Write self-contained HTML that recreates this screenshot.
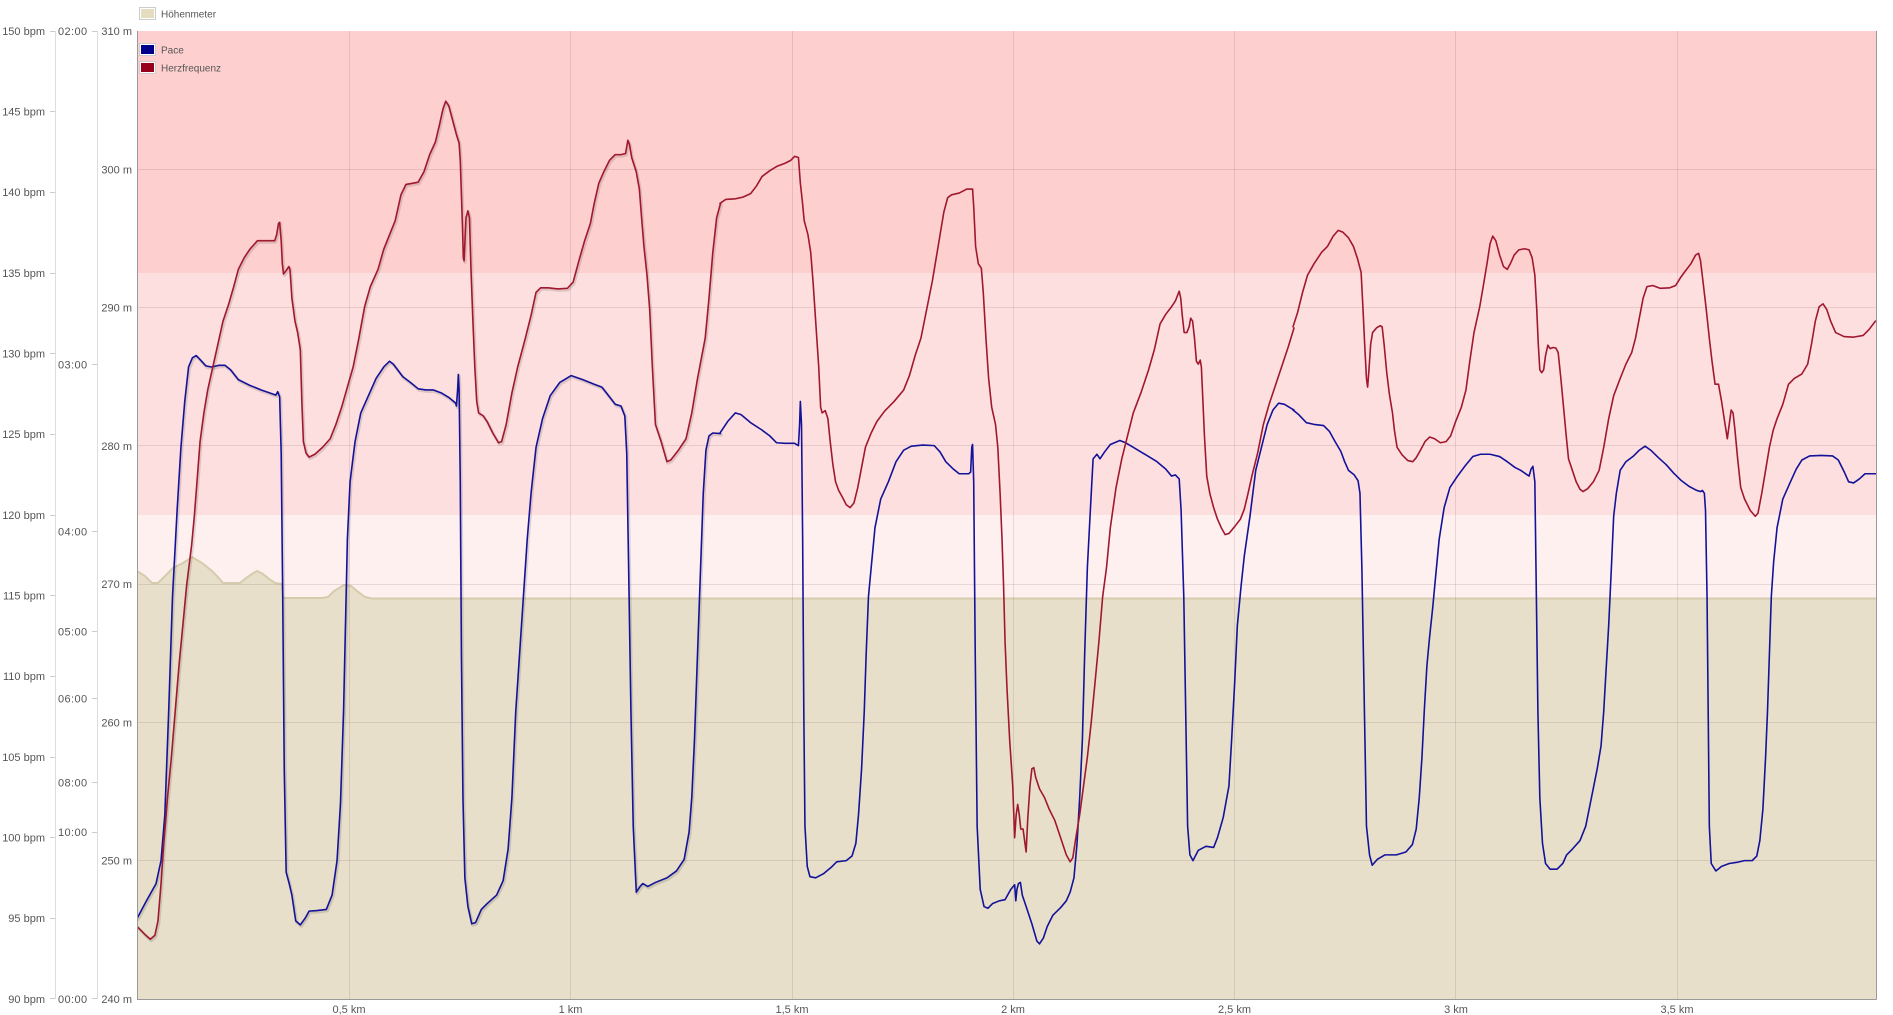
<!DOCTYPE html>
<html>
<head>
<meta charset="utf-8">
<style>
html,body{margin:0;padding:0;background:#fff;}
svg{display:block;}
text{font-family:"Liberation Sans",sans-serif;fill:#555;}
</style>
</head>
<body>
<svg width="1893" height="1015" viewBox="0 0 1893 1015" xmlns="http://www.w3.org/2000/svg">
<defs>
<clipPath id="plot" clipPathUnits="userSpaceOnUse"><rect x="137" y="31" width="1739" height="968"/></clipPath>
</defs>

<!-- zones -->
<rect x="137" y="31" width="1739" height="242" fill="#fecfcf"/>
<rect x="137" y="273" width="1739" height="242" fill="#fedfdf"/>
<rect x="137" y="515" width="1739" height="484" fill="#fff0f0"/>

<!-- elevation -->
<g clip-path="url(#plot)">
<path d="M137,571 L145,576 L152,583 L158,583 L166,575 L173,568 L183,563 L192,557 L202,563 L212,571 L217,576 L223,583 L240,583 L246,578 L252,574 L257,571 L263,574 L269,579 L275,583 L282,584 L283,598 L322,598 L328,597 L334,591 L344,585 L351,586 L357,591 L365,597 L372,598.5 L1876,598.5 L1876,999 L137,999 Z" fill="#e8dfca"/>
<path d="M137,571 L145,576 L152,583 L158,583 L166,575 L173,568 L183,563 L192,557 L202,563 L212,571 L217,576 L223,583 L240,583 L246,578 L252,574 L257,571 L263,574 L269,579 L275,583 L282,584 L283,598 L322,598 L328,597 L334,591 L344,585 L351,586 L357,591 L365,597 L372,598.5 L1876,598.5" fill="none" stroke="#d6cbad" stroke-width="2"/>
</g>

<!-- gridlines -->
<g stroke="rgba(120,80,80,0.16)" stroke-width="1">
<line x1="137" y1="169.5" x2="1876" y2="169.5"/>
<line x1="137" y1="307.5" x2="1876" y2="307.5"/>
<line x1="137" y1="445.5" x2="1876" y2="445.5"/>
<line x1="137" y1="584.5" x2="1876" y2="584.5"/>
<line x1="137" y1="722.5" x2="1876" y2="722.5"/>
<line x1="137" y1="860.5" x2="1876" y2="860.5"/>
<line x1="349.5" y1="31" x2="349.5" y2="999"/>
<line x1="570.5" y1="31" x2="570.5" y2="999"/>
<line x1="792.5" y1="31" x2="792.5" y2="999"/>
<line x1="1013.5" y1="31" x2="1013.5" y2="999"/>
<line x1="1234.5" y1="31" x2="1234.5" y2="999"/>
<line x1="1455.5" y1="31" x2="1455.5" y2="999"/>
<line x1="1677.5" y1="31" x2="1677.5" y2="999"/>
</g>

<!-- series -->
<g clip-path="url(#plot)" fill="none" stroke-linejoin="round" stroke-linecap="round">
<!-- shadows -->
<g transform="translate(1,1.5)" stroke="rgba(0,0,0,0.12)" stroke-width="3">
<g transform="translate(135,80) scale(0.38266,0.57399)">
<path vector-effect="non-scaling-stroke" d="M6,1460 L30,1430 L55,1400 L68,1360 L78,1280 L88,1100 L98,900 L110,750 L120,640 L130,560 L140,500 L150,484 L160,480 L170,487 L185,498 L200,500 L220,497 L235,497 L250,505 L270,522 L300,532 L330,540 L360,547 L368,549 L373,543 L378,552 L382,650 L386,900 L390,1200 L395,1380 L403,1400 L410,1420 L420,1465 L432,1472 L445,1460 L455,1448 L475,1447 L500,1445 L515,1420 L528,1360 L537,1260 L545,1100 L550,950 L555,800 L562,700 L575,630 L590,580 L610,550 L630,520 L650,500 L665,490 L675,495 L700,517 L720,527 L740,538 L760,540 L780,540 L800,545 L820,553 L838,563 L840,568 L843,540 L845,513 L847,540 L850,700 L853,1000 L857,1250 L862,1390 L870,1440 L880,1470 L890,1468 L905,1445 L920,1435 L945,1420 L962,1395 L975,1340 L985,1250 L995,1100 L1005,1000 L1015,900 L1025,800 L1035,720 L1048,640 L1065,590 L1085,550 L1110,527 L1140,515 L1170,522 L1200,530 L1220,535 L1240,552 L1255,565 L1270,568 L1280,585 L1285,650 L1290,850 L1296,1100 L1302,1300 L1310,1415 L1320,1405 L1327,1400 L1340,1405 L1360,1398 L1390,1390 L1415,1378 L1435,1358 L1448,1310 L1455,1250 L1462,1150 L1470,1000 L1478,850 L1485,720 L1492,645 L1500,620 L1510,615 L1530,616"/>
<path vector-effect="non-scaling-stroke" d="M6,1475 L25,1488 L40,1497 L52,1490 L60,1465 L68,1400 L75,1330 L85,1250 L95,1180 L105,1100 L115,1020 L125,950 L135,880 L148,810 L155,760 L162,700 L170,630 L180,580 L190,540 L200,510 L210,480 L220,450 L230,420 L245,390 L258,360 L270,330 L285,310 L300,295 L320,280 L345,280 L365,280 L370,270 L375,250 L378,248 L382,280 L385,320 L388,338 L395,332 L402,325 L405,330 L410,380 L418,420 L425,440 L432,470 L436,560 L440,630 L447,650 L455,657 L470,652 L490,640 L510,625 L525,600 L540,570 L555,535 L570,500 L585,450 L600,395 L615,360 L635,330 L650,295 L665,270 L680,245 L695,200 L708,182 L725,180 L740,178 L755,160 L770,130 L785,108 L795,80 L805,50 L812,37 L820,45 L830,70 L840,95 L847,110 L850,140 L853,200 L856,260 L858,310 L860,315 L865,240 L870,228 L874,240 L878,330 L883,420 L888,500 L893,560 L898,580 L910,585 L920,595 L935,615 L950,632 L958,630 L970,600 L985,545 L1000,500 L1020,450 L1035,410 L1048,370 L1060,362 L1080,362 L1105,364 L1130,363 L1145,352 L1160,315 L1175,280 L1190,250 L1200,215 L1212,180 L1225,160 L1240,140 L1255,130 L1270,130 L1282,128 L1288,105 L1292,112 L1298,135 L1310,160 L1318,190 L1325,250 L1330,290 L1338,340 L1345,400 L1352,500 L1360,600 L1375,630 L1390,665 L1400,662 L1420,645 L1440,625 L1455,580 L1470,520 L1490,450 L1500,380 L1510,300 L1520,240 L1530,215"/>
</g>
</g>

<!-- Section A: real x 135..735 -->
<g transform="translate(135,80) scale(0.38266,0.57399)">
<path vector-effect="non-scaling-stroke" stroke="#13139a" stroke-width="1.6" d="M6,1460 L30,1430 L55,1400 L68,1360 L78,1280 L88,1100 L98,900 L110,750 L120,640 L130,560 L140,500 L150,484 L160,480 L170,487 L185,498 L200,500 L220,497 L235,497 L250,505 L270,522 L300,532 L330,540 L360,547 L368,549 L373,543 L378,552 L382,650 L386,900 L390,1200 L395,1380 L403,1400 L410,1420 L420,1465 L432,1472 L445,1460 L455,1448 L475,1447 L500,1445 L515,1420 L528,1360 L537,1260 L545,1100 L550,950 L555,800 L562,700 L575,630 L590,580 L610,550 L630,520 L650,500 L665,490 L675,495 L700,517 L720,527 L740,538 L760,540 L780,540 L800,545 L820,553 L838,563 L840,568 L843,540 L845,513 L847,540 L850,700 L853,1000 L857,1250 L862,1390 L870,1440 L880,1470 L890,1468 L905,1445 L920,1435 L945,1420 L962,1395 L975,1340 L985,1250 L995,1100 L1005,1000 L1015,900 L1025,800 L1035,720 L1048,640 L1065,590 L1085,550 L1110,527 L1140,515 L1170,522 L1200,530 L1220,535 L1240,552 L1255,565 L1270,568 L1280,585 L1285,650 L1290,850 L1296,1100 L1302,1300 L1310,1415 L1320,1405 L1327,1400 L1340,1405 L1360,1398 L1390,1390 L1415,1378 L1435,1358 L1448,1310 L1455,1250 L1462,1150 L1470,1000 L1478,850 L1485,720 L1492,645 L1500,620 L1510,615 L1530,616"/>
<path vector-effect="non-scaling-stroke" stroke="#a0182e" stroke-width="1.6" d="M6,1475 L25,1488 L40,1497 L52,1490 L60,1465 L68,1400 L75,1330 L85,1250 L95,1180 L105,1100 L115,1020 L125,950 L135,880 L148,810 L155,760 L162,700 L170,630 L180,580 L190,540 L200,510 L210,480 L220,450 L230,420 L245,390 L258,360 L270,330 L285,310 L300,295 L320,280 L345,280 L365,280 L370,270 L375,250 L378,248 L382,280 L385,320 L388,338 L395,332 L402,325 L405,330 L410,380 L418,420 L425,440 L432,470 L436,560 L440,630 L447,650 L455,657 L470,652 L490,640 L510,625 L525,600 L540,570 L555,535 L570,500 L585,450 L600,395 L615,360 L635,330 L650,295 L665,270 L680,245 L695,200 L708,182 L725,180 L740,178 L755,160 L770,130 L785,108 L795,80 L805,50 L812,37 L820,45 L830,70 L840,95 L847,110 L850,140 L853,200 L856,260 L858,310 L860,315 L865,240 L870,228 L874,240 L878,330 L883,420 L888,500 L893,560 L898,580 L910,585 L920,595 L935,615 L950,632 L958,630 L970,600 L985,545 L1000,500 L1020,450 L1035,410 L1048,370 L1060,362 L1080,362 L1105,364 L1130,363 L1145,352 L1160,315 L1175,280 L1190,250 L1200,215 L1212,180 L1225,160 L1240,140 L1255,130 L1270,130 L1282,128 L1288,105 L1292,112 L1298,135 L1310,160 L1318,190 L1325,250 L1330,290 L1338,340 L1345,400 L1352,500 L1360,600 L1375,630 L1390,665 L1400,662 L1420,645 L1440,625 L1455,580 L1470,520 L1490,450 L1500,380 L1510,300 L1520,240 L1530,215"/>
</g>

<!-- Section B: real x 720..1320 -->
<g transform="translate(720,80) scale(0.38266,0.57399)">
<path vector-effect="non-scaling-stroke" stroke="#13139a" stroke-width="1.6" d="M0,615 L20,595 L40,580 L55,583 L80,597 L110,610 L130,620 L148,632 L170,633 L195,633 L205,637 L208,600 L210,560 L213,600 L216,800 L219,1100 L222,1300 L228,1370 L235,1388 L250,1390 L270,1383 L290,1372 L305,1362 L330,1360 L345,1352 L355,1330 L362,1280 L370,1200 L377,1100 L382,1000 L388,900 L395,850 L405,780 L420,730 L440,700 L460,665 L480,645 L500,638 L530,636 L560,637 L575,648 L590,665 L610,678 L625,686 L650,686 L655,683 L658,640 L660,635 L663,700 L667,1000 L672,1300 L680,1410 L690,1440 L700,1443 L712,1435 L730,1430 L745,1428 L760,1410 L770,1402 L773,1430 L776,1410 L780,1400 L785,1398 L790,1420 L800,1440 L815,1470 L828,1500 L835,1505 L845,1495 L855,1475 L870,1455 L890,1442 L905,1430 L915,1415 L925,1390 L933,1330 L940,1250 L947,1150 L953,1000 L960,850 L967,760 L975,660 L985,652 L993,660 L1005,648 L1020,635 L1045,628 L1060,632 L1080,640 L1110,652 L1140,664 L1165,678 L1180,690 L1190,688 L1200,695 L1205,750 L1212,900 L1217,1100 L1222,1300 L1228,1350 L1236,1360 L1250,1342 L1270,1335 L1290,1337 L1300,1320 L1315,1285 L1330,1230 L1337,1150 L1345,1050 L1352,950 L1362,880 L1370,830 L1385,760 L1400,680 L1415,640 L1430,600 L1445,575 L1460,563 L1475,565 L1500,575"/>
<path vector-effect="non-scaling-stroke" stroke="#a0182e" stroke-width="1.6" d="M0,215 L15,208 L40,207 L60,204 L80,198 L95,185 L110,168 L130,158 L150,150 L170,145 L185,140 L195,133 L205,135 L210,180 L215,210 L220,245 L230,270 L237,300 L243,350 L248,400 L253,450 L258,500 L263,570 L267,580 L275,576 L282,590 L288,630 L295,670 L302,700 L310,715 L320,727 L330,740 L340,745 L350,737 L360,710 L370,675 L380,640 L395,615 L410,595 L430,577 L455,560 L480,540 L495,515 L510,480 L525,450 L540,400 L555,350 L565,310 L575,270 L585,230 L595,205 L605,200 L625,197 L645,190 L660,190 L663,220 L668,290 L675,320 L683,328 L688,370 L695,450 L702,520 L710,570 L720,600 L726,640 L732,720 L737,800 L741,880 L745,980 L750,1060 L757,1150 L765,1230 L770,1320 L774,1280 L778,1262 L782,1280 L786,1305 L792,1305 L797,1330 L800,1345 L804,1290 L810,1230 L815,1200 L820,1198 L825,1215 L835,1235 L848,1250 L860,1270 L875,1290 L885,1310 L895,1330 L905,1350 L915,1362 L922,1355 L930,1320 L940,1280 L950,1230 L960,1180 L970,1120 L980,1050 L990,980 L1000,900 L1010,850 L1020,780 L1035,710 L1050,660 L1065,620 L1080,580 L1100,545 L1120,505 L1135,470 L1150,425 L1165,408 L1180,395 L1190,385 L1200,368 L1204,380 L1208,410 L1213,440 L1220,440 L1226,430 L1230,415 L1235,420 L1240,450 L1245,490 L1250,495 L1255,488 L1258,500 L1262,560 L1266,620 L1272,690 L1280,720 L1290,745 L1300,765 L1310,780 L1320,792 L1330,790 L1345,778 L1360,765 L1370,748 L1380,720 L1390,690 L1405,650 L1420,600 L1435,565 L1450,535 L1470,495 L1485,465 L1500,432"/>
</g>

<!-- Section C: real x 1293..1893 -->
<g transform="translate(1293,80) scale(0.38266,0.57399)">
<path vector-effect="non-scaling-stroke" stroke="#13139a" stroke-width="1.6" d="M0,575 L15,583 L35,597 L55,600 L80,602 L95,612 L110,630 L125,647 L135,665 L145,680 L160,688 L170,698 L175,720 L180,850 L184,1000 L188,1150 L192,1300 L200,1350 L207,1368 L220,1358 L240,1350 L270,1350 L295,1345 L312,1332 L322,1305 L330,1250 L337,1180 L343,1100 L350,1020 L357,970 L365,920 L372,870 L382,800 L395,745 L410,710 L430,690 L450,672 L470,656 L490,652 L515,652 L540,656 L560,665 L580,675 L595,680 L610,687 L617,690 L622,678 L627,673 L632,700 L636,900 L640,1100 L645,1250 L652,1330 L660,1365 L672,1375 L690,1375 L705,1365 L715,1350 L730,1340 L750,1325 L765,1300 L780,1250 L795,1200 L805,1160 L812,1100 L818,1030 L825,950 L832,850 L838,760 L845,720 L855,680 L870,665 L890,655 L905,645 L920,638 L935,645 L955,658 L975,670 L995,685 L1015,698 L1035,708 L1055,715 L1065,717 L1070,715 L1075,720 L1078,750 L1082,900 L1085,1100 L1088,1300 L1093,1365 L1105,1378 L1120,1370 L1140,1365 L1160,1363 L1180,1360 L1200,1360 L1212,1352 L1220,1325 L1228,1270 L1235,1180 L1240,1100 L1245,1000 L1250,900 L1256,840 L1265,780 L1280,730 L1300,700 L1315,678 L1330,662 L1350,655 L1380,654 L1410,655 L1425,662 L1440,682 L1452,700 L1465,702 L1480,695 L1495,686 L1522,686"/>
<path vector-effect="non-scaling-stroke" stroke="#a0182e" stroke-width="1.6" d="M0,430 L12,405 L25,370 L38,340 L55,320 L75,300 L90,290 L105,272 L118,262 L130,265 L145,275 L158,290 L168,310 L178,335 L183,400 L188,470 L192,520 L195,535 L198,510 L203,460 L208,440 L218,432 L228,428 L233,430 L238,460 L245,510 L252,548 L260,580 L265,610 L272,640 L285,653 L300,663 L313,665 L322,658 L333,645 L345,630 L357,622 L370,625 L385,632 L400,630 L412,620 L425,595 L440,570 L452,540 L462,490 L473,440 L488,395 L497,360 L507,320 L515,285 L522,272 L530,280 L540,305 L550,325 L560,330 L568,320 L578,305 L590,296 L605,294 L617,296 L625,310 L632,340 L637,400 L641,460 L645,505 L650,510 L655,505 L660,480 L666,462 L672,468 L680,466 L687,467 L693,475 L700,520 L707,570 L714,620 L720,660 L730,680 L740,700 L750,713 L758,717 L770,712 L785,700 L800,680 L812,640 L825,590 L838,550 L855,520 L870,495 L885,475 L895,450 L905,415 L915,380 L925,360 L940,358 L960,363 L985,362 L1000,358 L1012,345 L1025,333 L1040,320 L1052,305 L1060,302 L1065,315 L1073,360 L1080,400 L1088,450 L1095,490 L1103,530 L1112,530 L1120,560 L1128,595 L1135,625 L1140,600 L1145,575 L1150,580 L1155,610 L1162,660 L1170,710 L1180,730 L1195,750 L1208,760 L1215,755 L1225,720 L1235,680 L1245,640 L1255,610 L1265,590 L1280,565 L1295,530 L1310,520 L1330,512 L1345,495 L1355,460 L1365,420 L1375,395 L1385,390 L1395,400 L1405,420 L1418,440 L1440,447 L1465,448 L1490,445 L1505,435 L1522,420"/>
</g>
</g>

<!-- plot border -->
<line x1="137.5" y1="31" x2="137.5" y2="999.5" stroke="#999" stroke-width="1"/>
<line x1="137" y1="999.5" x2="1876.5" y2="999.5" stroke="#999" stroke-width="1"/>
<line x1="1876.5" y1="31" x2="1876.5" y2="999.5" stroke="#999" stroke-width="1"/>

<!-- left axes -->
<line x1="55.5" y1="31" x2="55.5" y2="999" stroke="#ddd"/>
<line x1="97.5" y1="31" x2="97.5" y2="999" stroke="#ddd"/>
<g stroke="#ccc">
<line x1="50" y1="31.5" x2="55" y2="31.5"/>
<line x1="50" y1="111.5" x2="55" y2="111.5"/>
<line x1="50" y1="192.5" x2="55" y2="192.5"/>
<line x1="50" y1="273.5" x2="55" y2="273.5"/>
<line x1="50" y1="353.5" x2="55" y2="353.5"/>
<line x1="50" y1="434.5" x2="55" y2="434.5"/>
<line x1="50" y1="515.5" x2="55" y2="515.5"/>
<line x1="50" y1="595.5" x2="55" y2="595.5"/>
<line x1="50" y1="676.5" x2="55" y2="676.5"/>
<line x1="50" y1="757.5" x2="55" y2="757.5"/>
<line x1="50" y1="837.5" x2="55" y2="837.5"/>
<line x1="50" y1="918.5" x2="55" y2="918.5"/>
<line x1="50" y1="998.5" x2="55" y2="998.5"/>
<line x1="92" y1="31.5" x2="97" y2="31.5"/>
<line x1="92" y1="364.5" x2="97" y2="364.5"/>
<line x1="92" y1="531.5" x2="97" y2="531.5"/>
<line x1="92" y1="631.5" x2="97" y2="631.5"/>
<line x1="92" y1="698.5" x2="97" y2="698.5"/>
<line x1="92" y1="782.5" x2="97" y2="782.5"/>
<line x1="92" y1="832.5" x2="97" y2="832.5"/>
<line x1="92" y1="998.5" x2="97" y2="998.5"/>
</g>

<g font-size="11" text-anchor="end">
<text x="45" y="35">150 bpm</text>
<text x="45" y="115.5">145 bpm</text>
<text x="45" y="196">140 bpm</text>
<text x="45" y="277">135 bpm</text>
<text x="45" y="357.5">130 bpm</text>
<text x="45" y="438">125 bpm</text>
<text x="45" y="519">120 bpm</text>
<text x="45" y="599.5">115 bpm</text>
<text x="45" y="680">110 bpm</text>
<text x="45" y="761">105 bpm</text>
<text x="45" y="841.5">100 bpm</text>
<text x="45" y="922">95 bpm</text>
<text x="45" y="1003">90 bpm</text>

<text x="132" y="35">310 m</text>
<text x="132" y="173.5">300 m</text>
<text x="132" y="311.5">290 m</text>
<text x="132" y="450">280 m</text>
<text x="132" y="588">270 m</text>
<text x="132" y="726.5">260 m</text>
<text x="132" y="864.5">250 m</text>
<text x="132" y="1003">240 m</text>
</g>
<g font-size="11" letter-spacing="0.4">
<text x="58" y="35">02:00</text>
<text x="58" y="368.5">03:00</text>
<text x="58" y="535.5">04:00</text>
<text x="58" y="635.5">05:00</text>
<text x="58" y="702.5">06:00</text>
<text x="58" y="786.5">08:00</text>
<text x="58" y="836">10:00</text>
<text x="58" y="1003">00:00</text>
</g>

<!-- x labels -->
<g font-size="11" text-anchor="middle">
<text x="349" y="1013">0,5 km</text>
<text x="570.5" y="1013">1 km</text>
<text x="792" y="1013">1,5 km</text>
<text x="1013" y="1013">2 km</text>
<text x="1234.5" y="1013">2,5 km</text>
<text x="1456" y="1013">3 km</text>
<text x="1677" y="1013">3,5 km</text>
</g>

<!-- legend -->
<rect x="139.5" y="7.5" width="16" height="12" fill="#fff" stroke="#ccc"/>
<rect x="141" y="9" width="13" height="9" fill="#e6dcbf"/>
<text x="161" y="17.5" font-size="10">Höhenmeter</text>

<rect x="139.5" y="43.5" width="16" height="12" fill="#fff" stroke="#ccc"/>
<rect x="141" y="45" width="13" height="9" fill="#00008b"/>
<text x="161" y="53.5" font-size="10">Pace</text>

<rect x="139.5" y="61.5" width="16" height="12" fill="#fff" stroke="#ccc"/>
<rect x="141" y="63" width="13" height="9" fill="#99001c"/>
<text x="161" y="71.5" font-size="10">Herzfrequenz</text>
</svg>
</body>
</html>
